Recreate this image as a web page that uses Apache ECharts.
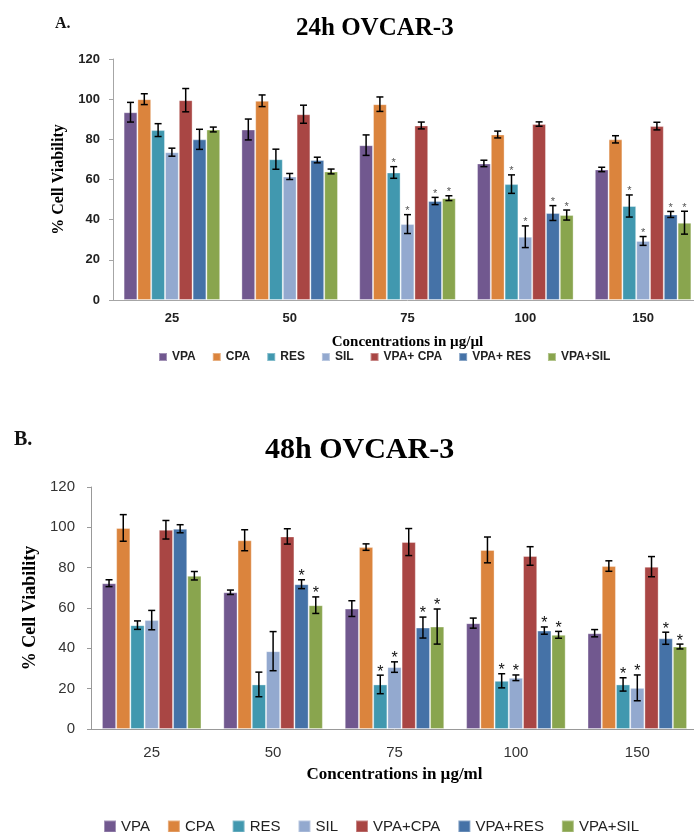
<!DOCTYPE html>
<html>
<head>
<meta charset="utf-8">
<script src="https://cdn.jsdelivr.net/npm/echarts@6/dist/echarts.min.js"></script>
<style>
  html, body { margin: 0; padding: 0; background: #fff; overflow: hidden; width: 694px; height: 832px; }
  #pageone { position: absolute; left: 0; top: 0; width: 702px; height: 400px; }
  #pagetwo { position: absolute; left: 0; top: 400px; width: 698px; height: 432px; }
</style>
</head>
<body>
<div id="pageone"></div>
<div id="pagetwo"></div>
<script>
var categories = ['25', '50', '75', '100', '150'];
var colors = ['#71588F', '#DB843D', '#4198AF', '#93A9CF', '#A94644', '#4572A7', '#89A54E'];
var namesTop = ['VPA', 'CPA', 'RES', 'SIL', 'VPA+ CPA', 'VPA+ RES', 'VPA+SIL'];
var namesBottom = ['VPA', 'CPA', 'RES', 'SIL', 'VPA+CPA', 'VPA+RES', 'VPA+SIL'];

// 24h OVCAR-3
var vpa24 = [93.5, 84.9, 77.1, 68.0, 65.0];
var cpa24 = [100, 99.2, 97.5, 82.4, 80.0];
var res24 = [84.6, 70.1, 63.5, 57.7, 46.8];
var sil24 = [73.6, 61.5, 37.8, 31.5, 29.4];
var vpaCpa24 = [99.5, 92.5, 86.9, 87.6, 86.6];
var vpaRes24 = [80.0, 69.7, 49.3, 43.3, 42.6];
var vpaSil24 = [84.9, 64.0, 50.7, 42.3, 38.5];
var vpa24Err = [4.9, 5.2, 5.1, 1.6, 1.1];
var cpa24Err = [2.7, 2.9, 3.6, 1.7, 1.8];
var res24Err = [3.2, 5.0, 2.9, 4.6, 5.5];
var sil24Err = [2.0, 1.5, 4.7, 5.4, 2.2];
var vpaCpa24Err = [5.8, 4.5, 1.7, 1.1, 1.9];
var vpaRes24Err = [5.0, 1.4, 1.8, 3.7, 1.5];
var vpaSil24Err = [1.2, 1.2, 1.2, 2.5, 5.7];
var none = [0, 0, 0, 0, 0];
var stars24 = [none, none, [0, 0, 1, 1, 1], [0, 0, 1, 1, 1], none, [0, 0, 1, 1, 1], [0, 0, 1, 1, 1]];

// 48h OVCAR-3
var vpa48 = [72.3, 67.8, 59.7, 52.5, 47.5];
var cpa48 = [99.7, 93.6, 90.2, 88.8, 80.8];
var res48 = [51.5, 22.1, 22.1, 23.9, 22.1];
var sil48 = [54.0, 38.6, 30.7, 25.4, 20.4];
var vpaCpa48 = [98.8, 95.5, 92.7, 85.8, 80.5];
var vpaRes48 = [99.3, 71.8, 50.3, 48.8, 45.0];
var vpaSil48 = [76.0, 61.4, 50.8, 46.7, 40.9];
var vpa48Err = [1.7, 1.1, 3.9, 2.5, 1.8];
var cpa48Err = [6.6, 5.2, 1.6, 6.4, 2.6];
var res48Err = [2.1, 6.1, 4.6, 3.5, 3.3];
var sil48Err = [4.8, 9.7, 2.6, 1.4, 6.4];
var vpaCpa48Err = [4.6, 3.8, 6.7, 4.6, 5.0];
var vpaRes48Err = [2.0, 2.2, 5.2, 1.8, 3.0];
var vpaSil48Err = [2.1, 4.1, 8.7, 1.7, 1.2];
var stars48 = [none, none, [0, 0, 1, 1, 1], [0, 0, 1, 1, 1], none, [0, 1, 1, 1, 1], [0, 1, 1, 1, 1]];

var values24 = [vpa24, cpa24, res24, sil24, vpaCpa24, vpaRes24, vpaSil24];
var errors24 = [vpa24Err, cpa24Err, res24Err, sil24Err, vpaCpa24Err, vpaRes24Err, vpaSil24Err];
var values48 = [vpa48, cpa48, res48, sil48, vpaCpa48, vpaRes48, vpaSil48];
var errors48 = [vpa48Err, cpa48Err, res48Err, sil48Err, vpaCpa48Err, vpaRes48Err, vpaSil48Err];

var gap = 0.18;

function buildSeries(names, values, errors, stars, star) {
    var series = [];
    for (var i = 0; i < names.length; i++) {
        series.push({
            name: names[i],
            type: 'bar',
            barGap: '0%',
            barCategoryGap: (gap * 100) + '%',
            itemStyle: {
                color: colors[i],
                borderColor: 'rgba(255,255,255,0.35)',
                borderWidth: 1
            },
            data: values[i]
        });
    }
    for (var j = 0; j < names.length; j++) {
        (function (idx) {
            series.push({
                name: names[idx],
                type: 'custom',
                z: 5,
                encode: { x: 0, y: 1 },
                renderItem: function (params, api) {
                    var ci = api.value(0);
                    var v = api.value(1);
                    var e = api.value(2);
                    var s = api.value(3);
                    var c = api.coord([ci, v]);
                    var band = api.size([1, 0])[0];
                    var gw = band * (1 - gap);
                    var bw = gw / names.length;
                    var x = c[0] - gw / 2 + (idx + 0.5) * bw;
                    var hi = api.coord([ci, v + e])[1];
                    var lo = api.coord([ci, v - e])[1];
                    var ls = { stroke: '#000', lineWidth: 1.5 };
                    var kids = [
                        { type: 'line', shape: { x1: x, y1: hi, x2: x, y2: lo }, style: ls },
                        { type: 'line', shape: { x1: x - 3.5, y1: hi, x2: x + 3.5, y2: hi }, style: ls },
                        { type: 'line', shape: { x1: x - 3.5, y1: lo, x2: x + 3.5, y2: lo }, style: ls }
                    ];
                    if (s) {
                        kids.push({
                            type: 'text',
                            style: {
                                text: '*',
                                x: x,
                                y: hi - star.offset,
                                align: 'center',
                                verticalAlign: 'top',
                                fill: star.color,
                                font: star.font
                            }
                        });
                    }
                    return { type: 'group', children: kids };
                },
                data: categories.map(function (c, k) {
                    return [k, values[idx][k], errors[idx][k], stars[idx][k]];
                })
            });
        })(j);
    }
    return series;
}

var serif = '"Liberation Serif", "Times New Roman", serif';
var sans = '"Liberation Sans", Arial, sans-serif';

var myChart = echarts.init(document.getElementById('pageone'));
var myChart1 = echarts.init(document.getElementById('pagetwo'));

var option = {
    animation: false,
    title: [
        { text: 'A.', left: 50, top: 11, textStyle: { fontFamily: serif, fontWeight: 'bold', fontSize: 16, color: '#111' } },
        { text: '24h OVCAR-3', left: 291, top: 11, textStyle: { fontFamily: serif, fontWeight: 'bold', fontSize: 25, color: '#000' } }
    ],
    legend: {
        data: namesTop,
        left: 153,
        top: 346,
        icon: 'rect',
        itemWidth: 8,
        itemHeight: 8,
        itemGap: 16,
        textStyle: { fontFamily: sans, fontWeight: 'bold', fontSize: 12, color: '#222' }
    },
    grid: { left: 113, right: 0, top: 59, bottom: 100 },
    xAxis: {
        type: 'category',
        data: categories,
        name: 'Concentrations in µg/µl',
        nameLocation: 'middle',
        nameGap: 35,
        nameTextStyle: { fontFamily: serif, fontWeight: 'bold', fontSize: 15, color: '#000' },
        axisLine: { lineStyle: { color: '#A6A6A6' } },
        axisTick: { length: 5, lineStyle: { color: '#A6A6A6' } },
        axisLabel: { margin: 12, fontFamily: sans, fontWeight: 'bold', fontSize: 13, color: '#222' }
    },
    yAxis: {
        type: 'value',
        min: 0,
        max: 120,
        interval: 20,
        name: '% Cell Viability',
        nameLocation: 'middle',
        nameRotate: 90,
        nameGap: 46,
        nameTextStyle: { fontFamily: serif, fontWeight: 'bold', fontSize: 16, color: '#000' },
        splitLine: { show: false },
        axisLine: { show: true, lineStyle: { color: '#A6A6A6' } },
        axisTick: { show: true, length: 4, lineStyle: { color: '#A6A6A6' } },
        axisLabel: { margin: 13, fontFamily: sans, fontWeight: 'bold', fontSize: 13, color: '#222' }
    },
    series: buildSeries(namesTop, values24, errors24, stars24, { color: '#555', font: '11px ' + sans, offset: 9 })
};

var option1 = {
    animation: false,
    title: [
        { text: 'B.', left: 9, top: 25, textStyle: { fontFamily: serif, fontWeight: 'bold', fontSize: 20, color: '#111' } },
        { text: '48h OVCAR-3', left: 260, top: 30, textStyle: { fontFamily: serif, fontWeight: 'bold', fontSize: 30, color: '#000' } }
    ],
    legend: {
        data: namesBottom,
        left: 98,
        top: 414,
        icon: 'rect',
        itemWidth: 12,
        itemHeight: 12,
        itemGap: 17,
        textStyle: { fontFamily: sans, fontSize: 15, color: '#222' }
    },
    grid: { left: 91, right: 0, top: 87, bottom: 103 },
    xAxis: {
        type: 'category',
        data: categories,
        name: 'Concentrations in µg/ml',
        nameLocation: 'middle',
        nameGap: 37,
        nameTextStyle: { fontFamily: serif, fontWeight: 'bold', fontSize: 17, color: '#000' },
        axisLine: { lineStyle: { color: '#999' } },
        axisTick: { length: 5, lineStyle: { color: '#999' } },
        axisLabel: { margin: 16, fontFamily: sans, fontSize: 15, color: '#333' }
    },
    yAxis: {
        type: 'value',
        min: 0,
        max: 120,
        interval: 20,
        name: '% Cell Viability',
        nameLocation: 'middle',
        nameRotate: 90,
        nameGap: 48,
        nameTextStyle: { fontFamily: serif, fontWeight: 'bold', fontSize: 18, color: '#000' },
        splitLine: { show: false },
        axisLine: { show: true, lineStyle: { color: '#999' } },
        axisTick: { show: true, length: 4, lineStyle: { color: '#999' } },
        axisLabel: { margin: 16, fontFamily: sans, fontSize: 15, color: '#333' }
    },
    series: buildSeries(namesBottom, values48, errors48, stars48, { color: '#111', font: '16px ' + sans, offset: 11 })
};

myChart.setOption(option);
myChart1.setOption(option1);
window.onresize = function () {
    myChart.resize();
    myChart1.resize();
};
</script>
</body>
</html>
